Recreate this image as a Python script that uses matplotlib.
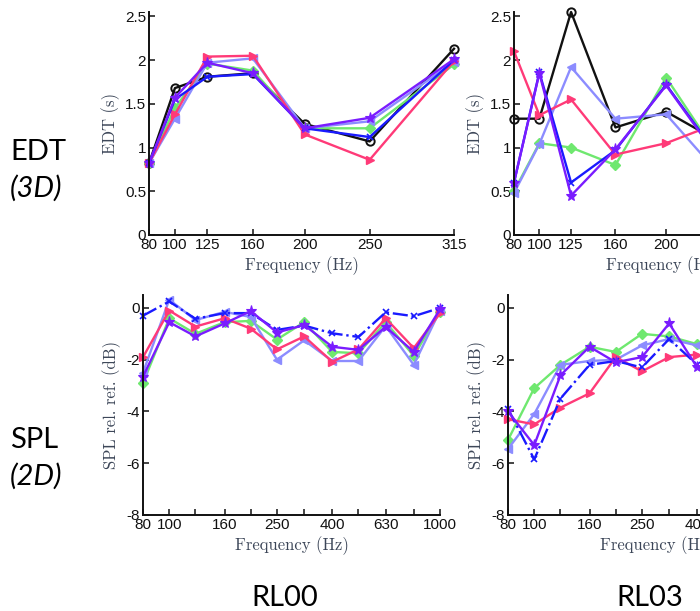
import matplotlib
matplotlib.use("Agg")
import matplotlib.pyplot as plt
from matplotlib.ticker import FixedLocator, FixedFormatter, NullLocator

plt.rcParams['axes.unicode_minus'] = False

# ---------------- data ----------------
edt_freqs = [80, 100, 125, 160, 200, 250, 315]
edt_rl00_black = [0.82, 1.68, 1.81, 1.85, 1.27, 1.07, 2.13]
edt_rl00_blue = [0.82, 1.55, 1.81, 1.84, 1.22, 1.12, 2.00]
edt_rl00_green = [0.82, 1.45, 1.96, 1.88, 1.22, 1.22, 1.95]
edt_rl00_lightblue = [0.82, 1.33, 1.97, 2.02, 1.22, 1.30, 1.98]
edt_rl00_pink = [0.82, 1.38, 2.04, 2.05, 1.15, 0.86, 1.99]
edt_rl00_purple = [0.82, 1.57, 1.97, 1.85, 1.22, 1.34, 2.01]

edt_rl03_freqs = [80, 100, 125, 160, 200, 250]
edt_rl03_black = [1.33, 1.33, 2.55, 1.23, 1.41, 1.00]
edt_rl03_blue = [0.60, 1.86, 0.60, 0.97, 1.72, 0.72]
edt_rl03_green = [0.50, 1.05, 1.00, 0.80, 1.80, 0.71]
edt_rl03_lightblue = [0.48, 1.04, 1.92, 1.33, 1.38, 0.56]
edt_rl03_pink = [2.10, 1.37, 1.55, 0.92, 1.05, 1.33]
edt_rl03_purple = [0.60, 1.85, 0.45, 0.98, 1.71, 0.70]

edt_ticks = [0, 0.5, 1, 1.5, 2, 2.5]
edt_tick_labels = ["0", "0.5", "1", "1.5", "2", "2.5"]

spl_freqs = [80, 100, 125, 160, 200, 250, 315, 400, 500, 630, 800, 1000]
spl_labeled = [80, 100, 160, 250, 400, 630, 1000]
spl_rl00_blue = [-0.30, 0.25, -0.42, -0.20, -0.20, -0.85, -0.68, -0.98, -1.12, -0.17, -0.32, 0.00]
spl_rl00_green = [-2.90, -0.40, -1.00, -0.55, -0.50, -1.22, -0.55, -1.70, -1.75, -0.55, -1.85, -0.15]
spl_rl00_lightblue = [-2.50, 0.32, -0.47, -0.15, -0.35, -2.00, -1.25, -2.05, -2.05, -0.70, -2.20, -0.10]
spl_rl00_pink = [-1.90, -0.10, -0.72, -0.40, -0.80, -1.60, -1.10, -2.08, -1.60, -0.40, -1.55, -0.20]
spl_rl00_purple = [-2.65, -0.55, -1.10, -0.60, -0.12, -0.95, -0.66, -1.50, -1.62, -0.73, -1.70, -0.05]

spl_rl03_freqs = [80, 100, 125, 160, 200, 250, 315, 400]
spl_rl03_blue = [-3.90, -5.85, -3.50, -2.20, -2.05, -2.30, -1.20, -2.20]
spl_rl03_green = [-5.10, -3.10, -2.20, -1.50, -1.70, -1.00, -1.10, -1.40]
spl_rl03_lightblue = [-5.45, -4.10, -2.20, -2.05, -2.00, -1.45, -1.20, -1.45]
spl_rl03_pink = [-4.30, -4.50, -3.85, -3.30, -1.90, -2.45, -1.90, -1.80]
spl_rl03_purple = [-4.00, -5.30, -2.60, -1.50, -2.10, -1.90, -0.60, -2.30]

spl_ticks = [-8, -6, -4, -2, 0]
spl_tick_labels = ["-8", "-6", "-4", "-2", "0"]

# ---------------- styles ----------------
STY = {
    'black': dict(color='#111111', marker='o', mfc='none', ms=6, mew=1.4, ls='-'),
    'green': dict(color='#6fe86f', marker='D', ms=5, mew=1.0, ls='-'),
    'lightblue': dict(color='#8c8cff', marker='<', ms=6, mew=1.0, ls='-'),
    'pink': dict(color='#ff3a78', marker='>', ms=6, mew=1.0, ls='-'),
    'blue': dict(color='#1a1aff', marker='x', ms=4, mew=1.2, ls='-'),
    'purple': dict(color='#7a1cff', marker='*', ms=8, mew=0.8, ls='-'),
}

W, H = 700, 611
fig = plt.figure(figsize=(W / 100, H / 100), dpi=100)

def ax_px(left, right, top, bottom):
    return fig.add_axes([left / W, 1 - bottom / H, (right - left) / W, (bottom - top) / H])

label_font = dict(family='cmr10', fontsize=12, color='#3c4658')
tick_font = dict(family='Liberation Sans', fontsize=11)

def style_axes(ax):
    for s in ('top', 'right'):
        ax.spines[s].set_visible(False)
    for s in ('left', 'bottom'):
        ax.spines[s].set_linewidth(1.4)
        ax.spines[s].set_color('#111111')
    ax.tick_params(direction='in', length=4, width=1.1, pad=2, colors='#111111')
    for lab in ax.get_xticklabels() + ax.get_yticklabels():
        lab.set_fontfamily(tick_font['family'])
        lab.set_fontsize(tick_font['fontsize'])

def plot_series(ax, x, series, blue_ls='-'):
    for name, vals in series:
        st = STY[name]
        ls = blue_ls if name == 'blue' else st['ls']
        ax.plot(x, vals, color=st['color'], ls=ls, lw=1.7, marker=st['marker'],
                ms=st['ms'], mew=st['mew'], mfc=st.get('mfc', st['color']),
                mec=st['color'], clip_on=False)

# ---------- EDT RL00 ----------
ax1 = ax_px(149, 454, 12, 235)
plot_series(ax1, edt_freqs, [('black', edt_rl00_black), ('green', edt_rl00_green),
                             ('lightblue', edt_rl00_lightblue), ('pink', edt_rl00_pink),
                             ('blue', edt_rl00_blue), ('purple', edt_rl00_purple)])
ax1.set_xlim(80, 315)
ax1.set_ylim(0, 2.55)
ax1.set_xticks(edt_freqs)
ax1.set_xticklabels([str(f) for f in edt_freqs])
ax1.set_yticks(edt_ticks)
ax1.set_yticklabels(edt_tick_labels)
ax1.set_xlabel('Frequency (Hz)', labelpad=3, **label_font)
ax1.set_ylabel('EDT (s)', labelpad=4, **label_font)
style_axes(ax1)

# ---------- EDT RL03 ----------
ax2 = ax_px(514, 812, 12, 235)
plot_series(ax2, edt_rl03_freqs, [('black', edt_rl03_black), ('green', edt_rl03_green),
                                  ('lightblue', edt_rl03_lightblue), ('pink', edt_rl03_pink),
                                  ('blue', edt_rl03_blue), ('purple', edt_rl03_purple)])
ax2.set_xlim(80, 315)
ax2.set_ylim(0, 2.55)
ax2.set_xticks(edt_freqs)
ax2.set_xticklabels([str(f) for f in edt_freqs])
ax2.set_yticks(edt_ticks)
ax2.set_yticklabels(edt_tick_labels)
ax2.set_xlabel('Frequency (Hz)', labelpad=3, **label_font)
ax2.set_ylabel('EDT (s)', labelpad=4, **label_font)
style_axes(ax2)

# ---------- SPL axes ----------
def setup_spl(ax):
    ax.set_xscale('log')
    ax.set_xlim(80, 1000)
    ax.set_ylim(-8, 0.5)
    ax.xaxis.set_major_locator(FixedLocator(spl_freqs))
    ax.xaxis.set_major_formatter(FixedFormatter(
        [str(f) if f in spl_labeled else '' for f in spl_freqs]))
    ax.xaxis.set_minor_locator(NullLocator())
    ax.set_yticks(spl_ticks)
    ax.set_yticklabels(spl_tick_labels)
    ax.set_xlabel('Frequency (Hz)', labelpad=3, **label_font)
    ax.set_ylabel('SPL rel. ref. (dB)', labelpad=4, **label_font)

ax3 = ax_px(143, 440, 295, 515)
plot_series(ax3, spl_freqs, [('green', spl_rl00_green), ('lightblue', spl_rl00_lightblue),
                             ('pink', spl_rl00_pink), ('blue', spl_rl00_blue),
                             ('purple', spl_rl00_purple)], blue_ls='-.')
setup_spl(ax3)
style_axes(ax3)

ax4 = ax_px(508, 805, 295, 515)
plot_series(ax4, spl_rl03_freqs, [('green', spl_rl03_green), ('lightblue', spl_rl03_lightblue),
                                  ('pink', spl_rl03_pink), ('blue', spl_rl03_blue),
                                  ('purple', spl_rl03_purple)], blue_ls='-.')
setup_spl(ax4)
style_axes(ax4)

# ---------- side / bottom annotations ----------
side = dict(family='Lato', fontsize=21, color='black')
fig.text(10 / W, 1 - 152 / H, 'EDT', ha='left', va='center', **side)
fig.text(10 / W, 1 - 188 / H, '(3D)', ha='left', va='center', style='italic', **side)
fig.text(10 / W, 1 - 440 / H, 'SPL', ha='left', va='center', **side)
fig.text(10 / W, 1 - 476 / H, '(2D)', ha='left', va='center', style='italic', **side)
fig.text(285 / W, 1 - 598 / H, 'RL00', ha='center', va='center', **side)
fig.text(650 / W, 1 - 598 / H, 'RL03', ha='center', va='center', **side)

fig.savefig('out.png', dpi=100)
